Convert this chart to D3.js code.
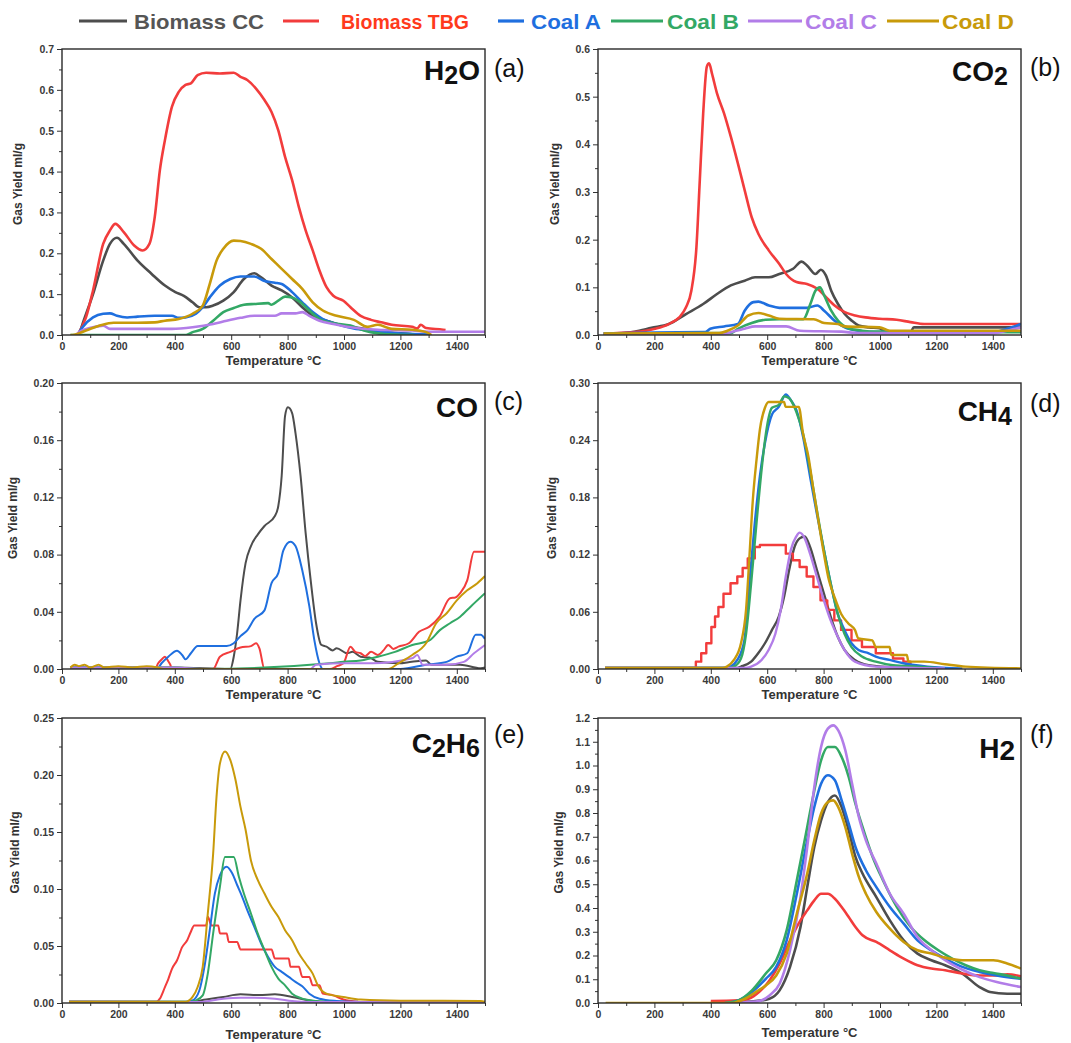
<!DOCTYPE html>
<html>
<head>
<meta charset="utf-8">
<script src="https://cdn.jsdelivr.net/npm/d3@7"></script>
<style>
  body { margin: 0; background: #fff; }
  svg { display: block; font-family: "Liberation Sans", Arial, sans-serif; }
</style>
</head>
<body>
<svg id="chart" width="1071" height="1043"></svg>
<script>
// ---- Series names ----
const seriesNames = ["Biomass CC", "Biomass TBG", "Coal A", "Coal B", "Coal C", "Coal D"];

// ---- Axis ticks ----
const tempTicks = [0, 200, 400, 600, 800, 1000, 1200, 1400];
const tempMinor = [100, 300, 500, 700, 900, 1100, 1300, 1500];
const yTicksH2O = [0, 0.1, 0.2, 0.3, 0.4, 0.5, 0.6, 0.7];
const yTicksCO2 = [0, 0.1, 0.2, 0.3, 0.4, 0.5, 0.6];
const yTicksCO = [0, 0.04, 0.08, 0.12, 0.16, 0.20];
const yTicksCH4 = [0, 0.06, 0.12, 0.18, 0.24, 0.30];
const yTicksC2H6 = [0, 0.05, 0.10, 0.15, 0.20, 0.25];
const yTicksH2 = [0, 0.1, 0.2, 0.3, 0.4, 0.5, 0.6, 0.7, 0.8, 0.9, 1.0, 1.1, 1.2];

// ---- H2O yield [temperature °C, ml/g] ----
const h2oCC = [[60,0],[73,.027],[110,.1],[146,.182],[170,.223],[195,.238],[219,.223],[268,.182],[317,.15],[365,.121],[402,.105],[432,.096],[463,.08],[487,.068],[511,.068],[536,.072],[572,.084],[609,.105],[645,.137],[682,.151],[706,.141],[743,.121],[779,.109],[816,.092],[852,.068],[889,.047],[938,.035],[998,.023],[1071,.015],[1145,.007],[1242,.002],[1300,0]];
const h2oTBG = [[55,0],[85,.043],[110,.109],[146,.223],[170,.256],[189,.272],[219,.252],[256,.219],[286,.207],[310,.223],[329,.289],[347,.403],[365,.477],[390,.559],[414,.595],[438,.612],[457,.616],[481,.636],[511,.642],[560,.640],[609,.642],[633,.632],[657,.624],[688,.603],[718,.575],[743,.546],[767,.501],[791,.436],[816,.379],[840,.313],[864,.256],[889,.207],[913,.158],[938,.117],[962,.096],[998,.084],[1023,.068],[1059,.047],[1096,.037],[1132,.031],[1169,.025],[1242,.020],[1260,.016],[1272,.025],[1291,.017],[1351,.013],[1360,.012]];
const h2oA = [[55,0],[73,.019],[110,.043],[146,.052],[170,.053],[195,.047],[231,.043],[268,.045],[329,.047],[390,.047],[414,.042],[438,.043],[475,.052],[499,.068],[524,.092],[560,.121],[597,.137],[633,.143],[682,.143],[718,.132],[755,.128],[779,.125],[816,.105],[852,.08],[889,.056],[925,.039],[974,.027],[1035,.016],[1096,.011],[1181,.005],[1303,.001]];
const h2oB = [[30,0],[440,0],[463,.007],[499,.015],[536,.035],[572,.056],[609,.066],[645,.074],[682,.076],[731,.078],[743,.074],[767,.084],[791,.094],[816,.092],[840,.083],[877,.06],[913,.039],[962,.029],[1023,.023],[1071,.011],[1120,.004],[1181,.001],[1250,0]];
const h2oC = [[50,0],[61,.007],[110,.019],[146,.023],[170,.015],[268,.015],[390,.015],[463,.019],[536,.027],[584,.035],[633,.042],[682,.047],[755,.047],[779,.053],[828,.053],[852,.056],[877,.047],[913,.035],[962,.027],[1023,.019],[1120,.013],[1242,.011],[1300,.008],[1500,.008]];
const h2oD = [[30,0],[37,0],[85,.011],[134,.023],[183,.03],[268,.03],[329,.031],[365,.035],[414,.039],[463,.052],[499,.072],[524,.125],[548,.182],[572,.211],[609,.231],[633,.23],[670,.223],[706,.211],[743,.186],[779,.162],[816,.137],[852,.113],[889,.08],[925,.06],[974,.047],[1035,.037],[1084,.02],[1120,.025],[1169,.015],[1242,.013],[1291,.007],[1310,0]];

// ---- CO2 yield ----
const co2CC = [[20,.002],[129,.007],[190,.015],[251,.023],[312,.044],[373,.065],[422,.086],[471,.104],[520,.114],[557,.121],[606,.121],[643,.128],[692,.139],[722,.154],[741,.146],[771,.128],[790,.137],[808,.125],[827,.093],[851,.065],[875,.044],[900,.03],[924,.02],[961,.016],[998,.014],[1022,.006],[1108,.006],[1120,.016],[1500,.016]];
const co2TBG = [[20,.003],[129,.006],[202,.013],[251,.023],[288,.037],[312,.058],[331,.093],[349,.184],[361,.325],[373,.465],[386,.563],[394,.57],[404,.549],[422,.507],[447,.465],[471,.416],[496,.36],[520,.304],[545,.247],[569,.212],[606,.177],[643,.149],[667,.128],[704,.111],[741,.107],[778,.097],[814,.076],[839,.062],[875,.048],[912,.041],[949,.037],[998,.034],[1059,.032],[1108,.027],[1157,.023],[1500,.023]];
const co2A = [[20,.003],[200,.005],[380,.006],[398,.013],[447,.018],[496,.023],[520,.051],[551,.069],[569,.07],[606,.062],[643,.057],[741,.057],[778,.062],[802,.051],[839,.03],[875,.016],[924,.009],[986,.006],[1402,.006],[1451,.013],[1500,.023]];
const co2B = [[20,.003],[470,.004],[496,.013],[545,.025],[594,.032],[643,.033],[728,.033],[753,.065],[771,.093],[787,.1],[802,.083],[827,.051],[851,.03],[888,.014],[937,.009],[986,.007],[1500,.006]];
const co2C = [[20,.002],[450,.002],[471,.006],[520,.013],[557,.018],[667,.018],[716,.009],[863,.007],[924,.004],[1402,.004],[1451,.009],[1500,.016]];
const co2D = [[20,.003],[430,.004],[459,.009],[496,.02],[533,.041],[569,.046],[606,.041],[643,.034],[765,.033],[802,.025],[851,.023],[875,.018],[998,.016],[1035,.009],[1500,.009]];

// ---- CO yield ----
const coCC = [[30,.001],[200,.001],[400,.001],[597,0],[609,.0086],[621,.025],[633,.048],[651,.074],[670,.086],[694,.094],[718,.1],[755,.107],[767,.114],[779,.135],[791,.177],[801,.183],[816,.179],[828,.165],[846,.135],[864,.095],[883,.06],[901,.032],[919,.017],[938,.0156],[960,.013],[974,.0145],[1011,.011],[1030,.012],[1059,.0086],[1090,.008],[1120,.005],[1193,.004],[1240,.005],[1291,.006],[1310,.003],[1339,.003],[1412,.003],[1485,.0005],[1500,.001]];
const coTBG = [[30,0],[330,0],[341,.004],[355,.007],[365,.0086],[375,.006],[384,.003],[390,0],[536,0],[560,.0086],[597,.012],[633,.015],[670,.016],[688,.018],[700,.0145],[718,0],[950,0],[975,.002],[998,.004],[1023,.0156],[1040,.012],[1059,.011],[1075,.009],[1096,.012],[1120,.0098],[1140,.013],[1157,.0168],[1175,.014],[1193,.0156],[1230,.018],[1266,.026],[1303,.0296],[1339,.0366],[1376,.0495],[1395,.05],[1412,.053],[1437,.062],[1461,.082],[1500,.082]];
const coA = [[30,.001],[340,.001],[353,.004],[377,.0086],[408,.0128],[426,.0098],[438,.0068],[457,.011],[481,.016],[511,.016],[584,.016],[609,.018],[633,.023],[657,.027],[682,.035],[718,.041],[743,.06],[767,.067],[785,.083],[810,.089],[828,.086],[852,.069],[877,.044],[895,.02],[913,.004],[925,0],[1200,0],[1291,.003],[1364,.005],[1400,.0086],[1437,.011],[1467,.024],[1485,.024],[1500,.021]];
const coB = [[30,.001],[400,.001],[500,0],[950,.004],[998,.005],[1059,.006],[1120,.0086],[1181,.012],[1242,.0168],[1303,.02],[1339,.027],[1376,.032],[1412,.0366],[1449,.0436],[1500,.053]];
const coC = [[30,.001],[400,.001],[500,0],[880,0],[901,.003],[998,.004],[1100,.004],[1242,.0075],[1260,.0098],[1279,.003],[1364,.003],[1425,.005],[1461,.011],[1500,.0168]];
const coD = [[30,.001],[45,.003],[60,.002],[80,.003],[100,.001],[130,.003],[150,.001],[200,.002],[250,.001],[300,.002],[340,.001],[360,0],[1157,0],[1193,.004],[1242,.0098],[1291,.018],[1327,.032],[1364,.039],[1400,.048],[1437,.055],[1473,.06],[1500,.065]];

// ---- CH4 yield ----
const ch4CC = [[25,.001],[490,.001],[507,.0025],[543,.0077],[568,.0165],[592,.027],[617,.041],[641,.055],[660,.076],[678,.104],[697,.128],[715,.137],[733,.139],[752,.128],[776,.104],[801,.079],[825,.055],[850,.034],[874,.02],[911,.0095],[960,.004],[1046,.0018],[1100,.001]];
const ch4TBG = [[25,.001],[323,.001],[347,.0077],[366,.0165],[384,.027],[402,.044],[415,.055],[427,.065],[445,.079],[470,.09],[494,.097],[513,.106],[531,.116],[556,.128],[574,.13],[654,.13],[666,.121],[691,.114],[715,.107],[740,.097],[764,.086],[789,.072],[813,.062],[838,.051],[862,.041],[899,.03],[936,.023],[985,.0165],[1046,.011],[1083,.0077],[1108,.0025],[1130,.001]];
const ch4A = [[25,.001],[450,.001],[470,.0025],[494,.0095],[519,.03],[537,.09],[556,.153],[574,.202],[592,.237],[617,.267],[641,.275],[666,.288],[684,.282],[703,.272],[727,.244],[752,.202],[776,.163],[801,.125],[825,.09],[850,.058],[874,.041],[899,.027],[924,.02],[960,.0165],[985,.013],[1034,.0095],[1083,.006],[1169,.0025],[1292,.0007]];
const ch4B = [[25,.001],[460,.001],[482,.0025],[507,.011],[525,.037],[543,.09],[562,.153],[580,.209],[599,.254],[617,.274],[641,.277],[660,.286],[678,.284],[703,.27],[727,.247],[752,.209],[776,.167],[801,.125],[825,.09],[850,.058],[874,.037],[899,.023],[936,.013],[985,.0077],[1046,.004],[1132,.0025],[1200,.001]];
const ch4C = [[25,.001],[520,.001],[543,.0025],[580,.0095],[605,.02],[629,.037],[648,.062],[666,.097],[684,.125],[703,.139],[715,.143],[733,.137],[752,.121],[776,.097],[801,.072],[825,.051],[850,.034],[874,.02],[911,.0077],[985,.0025],[1230,.0007]];
const ch4D = [[25,.001],[440,.001],[457,.0025],[482,.0095],[507,.027],[525,.062],[537,.118],[549,.177],[562,.219],[574,.251],[592,.274],[605,.28],[660,.28],[665,.275],[712,.275],[727,.247],[746,.223],[764,.188],[783,.153],[801,.121],[819,.093],[838,.076],[862,.058],[887,.048],[911,.041],[924,.032],[973,.03],[985,.023],[1034,.023],[1040,.0147],[1095,.0147],[1101,.0077],[1157,.0077],[1230,.005],[1304,.0025],[1500,.0007]];

// ---- C2H6 yield ----
const c2h6CC = [[25,.001],[450,.0009],[511,.003],[572,.0053],[633,.0076],[700,.007],[755,.0076],[816,.0053],[877,.0023],[938,.0009],[1000,.001]];
const c2h6TBG = [[25,.001],[335,.001],[347,.0038],[365,.014],[377,.021],[390,.03],[408,.0375],[426,.049],[444,.055],[457,.0625],[469,.068],[511,.068],[517,.0756],[530,.068],[554,.068],[560,.061],[584,.061],[591,.0536],[621,.0536],[633,.047],[743,.047],[755,.039],[804,.039],[810,.0317],[840,.0317],[852,.0229],[877,.0229],[889,.0155],[913,.0155],[925,.0082],[962,.0067],[998,.003],[1050,.001]];
const c2h6A = [[25,.001],[440,.001],[463,.0023],[487,.011],[505,.0317],[524,.064],[542,.096],[560,.112],[584,.1196],[603,.114],[621,.1035],[639,.0932],[657,.0815],[682,.0668],[706,.0522],[731,.0404],[755,.0317],[779,.0273],[804,.0229],[828,.0185],[852,.0147],[877,.0082],[913,.0038],[974,.0018],[1050,.001]];
const c2h6B = [[25,.001],[450,.001],[475,.0023],[499,.0067],[517,.0258],[536,.061],[560,.102],[578,.128],[609,.128],[627,.111],[645,.096],[670,.0785],[694,.061],[718,.0463],[743,.0317],[767,.0214],[791,.0155],[816,.0082],[852,.0038],[901,.0018],[960,.001]];
const c2h6C = [[25,.001],[487,.0009],[572,.0038],[633,.0047],[755,.0038],[816,.0018],[877,.0008],[1500,.0008]];
const c2h6D = [[25,.001],[438,.001],[463,.0053],[481,.014],[499,.0317],[517,.0785],[536,.131],[548,.181],[560,.21],[578,.2207],[597,.213],[615,.196],[633,.172],[651,.152],[670,.125],[694,.108],[718,.096],[743,.0844],[767,.0756],[791,.0639],[816,.0551],[840,.0434],[864,.0346],[889,.0258],[907,.0155],[938,.0082],[998,.0053],[1059,.003],[1200,.002],[1485,.0018],[1500,.001]];

// ---- H2 yield ----
const h2CC = [[400,0],[498,.004],[559,.008],[608,.018],[644,.053],[681,.152],[718,.32],[742,.488],[767,.657],[791,.769],[815,.846],[840,.874],[864,.825],[889,.727],[913,.615],[938,.545],[987,.446],[1035,.348],[1084,.264],[1133,.208],[1182,.18],[1231,.159],[1292,.124],[1353,.067],[1390,.046],[1451,.039],[1500,.039]];
const h2TBG = [[400,.008],[498,.011],[534,.018],[571,.046],[608,.095],[644,.166],[681,.264],[718,.348],[742,.39],[767,.432],[791,.46],[815,.46],[840,.439],[864,.404],[889,.362],[913,.32],[938,.285],[987,.257],[1035,.222],[1084,.187],[1133,.159],[1182,.145],[1231,.138],[1292,.124],[1353,.116],[1414,.116],[1451,.121],[1500,.112]];
const h2A = [[450,0],[498,.011],[546,.046],[595,.102],[632,.152],[669,.264],[705,.46],[742,.685],[767,.825],[791,.923],[815,.959],[840,.938],[864,.853],[889,.755],[913,.657],[950,.559],[987,.488],[1035,.404],[1084,.334],[1133,.264],[1182,.222],[1231,.187],[1292,.152],[1353,.131],[1414,.116],[1500,.102]];
const h2B = [[450,0],[498,.011],[546,.053],[595,.124],[632,.18],[669,.306],[705,.516],[742,.741],[767,.895],[791,1.022],[815,1.078],[840,1.078],[864,1.036],[889,.952],[913,.839],[938,.741],[974,.615],[1011,.516],[1060,.404],[1109,.32],[1158,.264],[1207,.222],[1256,.187],[1304,.159],[1353,.138],[1402,.126],[1451,.116],[1500,.102]];
const h2C = [[500,0],[522,.003],[571,.008],[608,.032],[644,.081],[681,.222],[718,.446],[742,.657],[767,.909],[791,1.078],[815,1.155],[834,1.169],[852,1.148],[877,1.064],[901,.923],[925,.783],[950,.685],[987,.587],[1035,.46],[1084,.376],[1133,.278],[1182,.222],[1231,.18],[1292,.14],[1353,.109],[1414,.088],[1500,.067]];
const h2D = [[27,0],[480,0],[498,.007],[522,.018],[559,.046],[595,.074],[632,.116],[669,.208],[705,.376],[742,.545],[767,.685],[791,.797],[815,.846],[834,.853],[852,.825],[877,.741],[901,.629],[925,.531],[950,.46],[987,.383],[1035,.313],[1084,.257],[1133,.222],[1182,.208],[1231,.191],[1292,.18],[1353,.18],[1402,.18],[1451,.166],[1500,.145]];

// ---- Styling ----
const lineColors = ["#4d4d4d", "#f23c3c", "#1f6fdf", "#33a865", "#b27de8", "#c89a0a"];
const legendTextColors = ["#555555", "#ff3a1c", "#1f6fdf", "#33a865", "#b27de8", "#c89a0a"];

// Panel layout: frame position, y scale, header label pieces
const panels = [
  { series: [h2oCC, h2oTBG, h2oA, h2oB, h2oC, h2oD], left: 62, top: 49, h: 286, yMax: 0.7, yTicks: yTicksH2O, minor: 0.05, fmt: ".1f",
    gas: [["H", 0], ["2", 1], ["O", 0]], tag: "(a)", gasDx: -5, gasDy: 31, tagDy: 28, yTitleDx: -40, lw: 2.6, xTitleDy: 30 },
  { series: [co2CC, co2TBG, co2A, co2B, co2C, co2D], left: 598, top: 49, h: 286, yMax: 0.6, yTicks: yTicksCO2, minor: 0.05, fmt: ".1f",
    gas: [["CO", 0], ["2", 1]], tag: "(b)", gasDx: -13, gasDy: 32, tagDy: 27, yTitleDx: -39, lw: 2.6, xTitleDy: 30 },
  { series: [coCC, coTBG, coA, coB, coC, coD], left: 62, top: 383, h: 286, yMax: 0.2, yTicks: yTicksCO, minor: 0.02, fmt: ".2f",
    gas: [["CO", 0]], tag: "(c)", gasDx: -7, gasDy: 34, tagDy: 27, yTitleDx: -45, lw: 2.0, xTitleDy: 30 },
  { series: [ch4CC, ch4TBG, ch4A, ch4B, ch4C, ch4D], left: 598, top: 383, h: 286, yMax: 0.3, yTicks: yTicksCH4, minor: 0.03, fmt: ".2f",
    gas: [["CH", 0], ["4", 1]], tag: "(d)", gasDx: -9, gasDy: 38, tagDy: 29, yTitleDx: -42, lw: 2.4, xTitleDy: 30, stepRed: true },
  { series: [c2h6CC, c2h6TBG, c2h6A, c2h6B, c2h6C, c2h6D], left: 62, top: 718, h: 285, yMax: 0.25, yTicks: yTicksC2H6, minor: 0.025, fmt: ".2f",
    gas: [["C", 0], ["2", 1], ["H", 0], ["6", 1]], tag: "(e)", gasDx: -5, gasDy: 35, tagDy: 25, yTitleDx: -43, lw: 2.0, xTitleDy: 36 },
  { series: [h2CC, h2TBG, h2A, h2B, h2C, h2D], left: 598, top: 718, h: 285, yMax: 1.2, yTicks: yTicksH2, minor: 0.05, fmt: ".1f",
    gas: [["H", 0], ["2", 2]], tag: "(f)", gasDx: -6, gasDy: 40, tagDy: 25, yTitleDx: -35, lw: 2.6, xTitleDy: 34 }
];
const panelW = 423;

const svg = d3.select("#chart");

// ---- Legend ----
const legendItems = [
  { line: [79, 127], text: 134, len: 130 },
  { line: [283, 319], text: 341, len: 128 },
  { line: [498, 524], text: 531, len: 70 },
  { line: [611, 663], text: 667, len: 72 },
  { line: [748, 802], text: 805, len: 72 },
  { line: [887, 939], text: 942, len: 72 }
];
const legend = svg.append("g").attr("class", "legend");
seriesNames.forEach((name, i) => {
  const it = legendItems[i];
  legend.append("line")
    .attr("x1", it.line[0]).attr("x2", it.line[1])
    .attr("y1", 21).attr("y2", 21)
    .attr("stroke", lineColors[i]).attr("stroke-width", 3.2);
  legend.append("text")
    .attr("x", it.text).attr("y", 28.5)
    .attr("font-size", 21).attr("font-weight", "bold")
    .attr("textLength", it.len).attr("lengthAdjust", "spacingAndGlyphs")
    .attr("fill", legendTextColors[i])
    .text(name);
});

// ---- Panels ----
panels.forEach((p, pi) => {
  const g = svg.append("g").attr("transform", `translate(${p.left},${p.top})`);
  const x = d3.scaleLinear().domain([0, 1500]).range([0, panelW]);
  const y = d3.scaleLinear().domain([0, p.yMax]).range([p.h, 0]);

  const clipId = "clip" + pi;
  g.append("clipPath").attr("id", clipId)
    .append("rect").attr("x", 0).attr("y", -2).attr("width", panelW).attr("height", p.h + 2);

  // curves
  const lines = g.append("g").attr("clip-path", `url(#${clipId})`);
  p.series.forEach((s, si) => {
    const curve = (p.stepRed && si === 1) ? d3.curveStepAfter : d3.curveMonotoneX;
    const lineGen = d3.line().x(d => x(d[0])).y(d => y(d[1])).curve(curve);
    lines.append("path")
      .attr("d", lineGen(s))
      .attr("fill", "none")
      .attr("stroke", lineColors[si])
      .attr("stroke-width", p.lw)
      .attr("stroke-linejoin", "round");
  });

  // x axis major + minor
  const xAxis = g.append("g").attr("transform", `translate(0,${p.h})`)
    .call(d3.axisBottom(x).tickValues(tempTicks).tickSize(5).tickPadding(3).tickFormat(d3.format("d")));
  g.append("g").attr("transform", `translate(0,${p.h})`)
    .call(d3.axisBottom(x).tickValues(tempMinor).tickSize(3).tickFormat(""))
    .call(a => a.select(".domain").remove());

  // y axis major + minor
  const yAxis = g.append("g")
    .call(d3.axisLeft(y).tickValues(p.yTicks).tickSize(5).tickPadding(3).tickFormat(d3.format(p.fmt)));
  const minorVals = d3.range(p.minor, p.yMax, p.minor * 2).map(v => +v.toFixed(4));
  g.append("g")
    .call(d3.axisLeft(y).tickValues(minorVals).tickSize(3).tickFormat(""))
    .call(a => a.select(".domain").remove());

  [xAxis, yAxis].forEach(a => {
    a.select(".domain").remove();
    a.selectAll("text").attr("font-size", 10.5).attr("font-weight", "bold")
      .attr("fill", "#3a3a3a").attr("font-family", "'Liberation Sans Narrow', 'Liberation Sans', Arial, sans-serif");
  });
  g.selectAll(".tick line").attr("stroke", "#333").attr("stroke-width", 1);

  // frame
  g.append("rect").attr("x", 0).attr("y", 0).attr("width", panelW).attr("height", p.h)
    .attr("fill", "none").attr("stroke", "#2a2a2a").attr("stroke-width", 1.4);

  // axis titles
  g.append("text")
    .attr("x", panelW / 2).attr("y", p.h + p.xTitleDy)
    .attr("text-anchor", "middle").attr("font-size", 13).attr("font-weight", "bold")
    .attr("fill", "#333").text("Temperature \u00B0C");
  g.append("text")
    .attr("transform", `translate(${p.yTitleDx},${p.h / 2 - 8}) rotate(-90)`)
    .attr("text-anchor", "middle").attr("font-size", 12).attr("font-weight", "bold")
    .attr("fill", "#333").text("Gas Yield ml/g");

  // gas label with subscripts
  const gas = g.append("text")
    .attr("x", panelW + p.gasDx).attr("y", p.gasDy)
    .attr("text-anchor", "end").attr("font-size", 28).attr("font-weight", "bold")
    .attr("fill", "#111");
  p.gas.forEach(([t, sub], i) => {
    const ts = gas.append("tspan").text(t);
    const prevSub = i > 0 && p.gas[i - 1][1] === 1;
    if (sub === 1) ts.attr("font-size", 25).attr("dy", 4);
    else if (sub === 2) ts.attr("dy", 2);
    else ts.attr("dy", prevSub ? -4 : 0);
  });

  // panel tag
  g.append("text")
    .attr("x", panelW + 9).attr("y", p.tagDy)
    .attr("font-size", 25).attr("fill", "#111").text(p.tag);
});
</script>
</body>
</html>
